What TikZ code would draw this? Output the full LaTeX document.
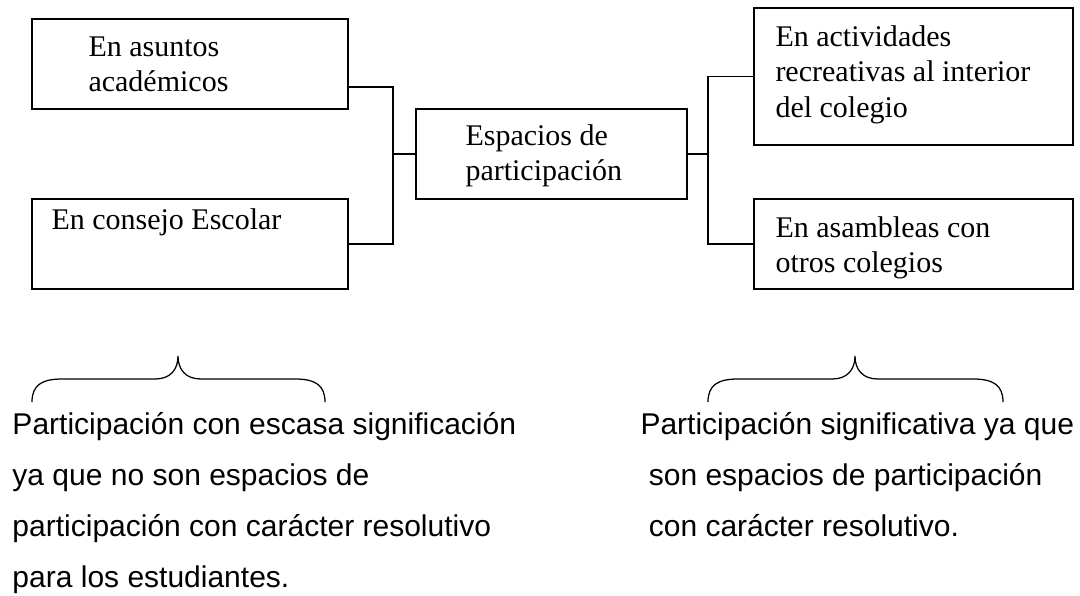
\documentclass[tikz,border=0pt]{standalone}
\usepackage{fontspec}
\setmainfont{Liberation Serif}
\newfontfamily\arialf{Liberation Sans}
\begin{document}
\begin{tikzpicture}[x=0.4pt,y=-0.4pt,
  box/.style={draw=black,line width=0.8pt,rectangle,inner sep=0pt,fill=white},
  conn/.style={draw=black,line width=0.6pt},
  brace/.style={draw=black,line width=0.5pt},
  txt/.style={anchor=base west,inner sep=0pt,font=\fontsize{12}{14.2}\selectfont},
  stxt/.style={anchor=base west,inner sep=0pt,font=\arialf\fontsize{12}{20.4}\selectfont}]
\useasboundingbox (0,0) rectangle (1080,595);
% boxes
\node[box,minimum width=126.4pt,minimum height=36pt] (A) at (190,64) {};
\node[box,minimum width=126.4pt,minimum height=36pt] (B) at (190,244) {};
\node[box,minimum width=108.4pt,minimum height=36pt] (E) at (551.5,154) {};
\node[box,minimum width=127.6pt,minimum height=54.8pt] (C) at (913.5,76.5) {};
\node[box,minimum width=127.6pt,minimum height=36pt] (D) at (913.5,244) {};
% box texts
\node[txt] (tA) at (88,56) {\begin{tabular}[t]{@{}l@{}}En asuntos\\académicos\end{tabular}};
\node[txt] (tB) at (51,229) {En consejo Escolar};
\node[txt] (tE) at (465,145) {\begin{tabular}[t]{@{}l@{}}Espacios de\\participación\end{tabular}};
\node[txt] (tC) at (775,46) {\begin{tabular}[t]{@{}l@{}}En actividades\\recreativas al interior\\del colegio\end{tabular}};
\node[txt] (tD) at (775,237) {\begin{tabular}[t]{@{}l@{}}En asambleas con\\otros colegios\end{tabular}};
% connectors
\coordinate (lx) at (393,154);
\coordinate (rx) at (708,154);
\draw[conn] ([yshift=9.2pt]A.south east) -| (lx) |- (B.east);
\draw[conn] (lx) -- (E.west);
\draw[conn] (E.east) -- (rx);
\draw[conn] (C.west) -| (rx) |- (D.west);
% braces
\draw[brace] (32,402) .. controls (32,385) and (42,379) .. (62,379) -- (155,379)
  .. controls (170,379) and (178,370) .. (178,356)
  .. controls (178,370) and (186,379) .. (201,379) -- (295,379)
  .. controls (315,379) and (325,385) .. (325,402);
\draw[brace] (708,402) .. controls (708,385) and (718,379) .. (738,379) -- (832,379)
  .. controls (847,379) and (855,370) .. (855,356)
  .. controls (855,370) and (863,379) .. (878,379) -- (973,379)
  .. controls (993,379) and (1003,385) .. (1003,402);
% bottom texts
\node[stxt] (bl) at (12,434) {\begin{tabular}[t]{@{}l@{}}Participación con escasa significación\\ya que no son espacios de\\participación con carácter resolutivo\\para los estudiantes.\end{tabular}};
\node[stxt] (br) at (640,434) {\begin{tabular}[t]{@{}l@{}}Participación significativa ya que\\\ son espacios de participación\\\ con carácter resolutivo.\end{tabular}};
\end{tikzpicture}
\end{document}
